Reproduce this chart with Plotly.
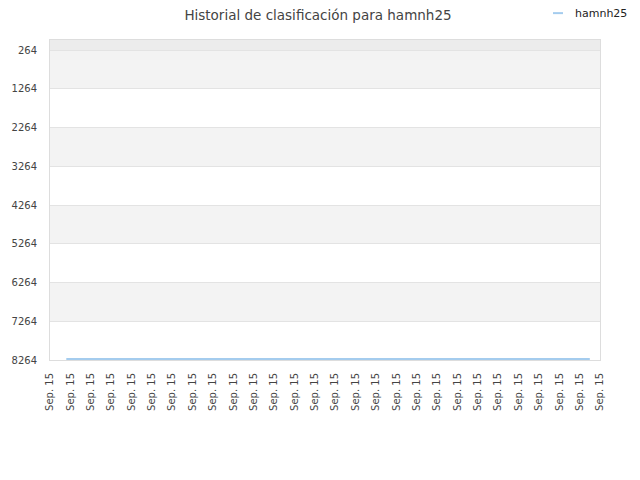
import plotly.graph_objects as go
import pandas as pd

# Datos del historial (todos el mismo día)
fechas = pd.to_datetime([
    "2015-09-15 10:24", "2015-09-15 13:00", "2015-09-15 16:00",
    "2015-09-15 19:00", "2015-09-15 21:00", "2015-09-15 23:15",
])
posiciones = [8240, 8240, 8240, 8240, 8240, 8240]

# Marcas del eje
ticks_y = [264, 1264, 2264, 3264, 4264, 5264, 6264, 7264, 8264]
ticks_x = pd.date_range("2015-09-15 10:00", periods=28, freq="30min")
jugador = "hamnh25"

fig = go.Figure()
fig.add_trace(go.Scatter(x=fechas, y=posiciones, mode="lines",
                         line=dict(color="#a4ccee", width=2),
                         name=jugador, showlegend=False))

# Bandas alternas
fig.add_shape(type="rect", xref="paper", yref="y", x0=0, x1=1,
              y0=6, y1=ticks_y[0], fillcolor="#ececec", line_width=0, layer="below")
for i in range(0, len(ticks_y) - 1, 2):
    fig.add_shape(type="rect", xref="paper", yref="y", x0=0, x1=1,
                  y0=ticks_y[i], y1=ticks_y[i + 1], fillcolor="#f3f3f3",
                  line_width=0, layer="below")

# Leyenda manual
fig.add_shape(type="line", xref="paper", yref="paper", x0=0.9145, x1=0.9327,
              y0=1.084, y1=1.084, line=dict(color="#a4ccee", width=2))
fig.add_annotation(text=jugador, xref="paper", yref="paper", x=0.951, y=1.084,
                   xanchor="left", yanchor="middle", showarrow=False,
                   font=dict(size=11, color="#222"))

# la página añade 8px de margen al cuerpo
fig.update_layout(
    width=632, height=472,
    margin=dict(l=42, r=40, t=32, b=120),
    paper_bgcolor="white", plot_bgcolor="white",
    font=dict(family="DejaVu Sans", size=10, color="#444"),
    title=dict(text="Historial de clasificación para " + jugador,
               x=0.4905, xanchor="center", y=0.984, yanchor="middle",
               font=dict(size=13.5, color="#444")),
    showlegend=False,
)
fig.update_xaxes(range=[ticks_x[0], ticks_x[-1]], tickvals=ticks_x,
                 ticktext=["Sep. 15"] * len(ticks_x), tickangle=-90,
                 showgrid=False, showline=True, linecolor="#dddddd",
                 mirror=True, ticks="", zeroline=False, automargin=False,
                 ticklabelstandoff=8)
fig.update_yaxes(range=[8264, 6], tickvals=ticks_y, showgrid=True,
                 gridcolor="#e3e3e3", showline=True, linecolor="#dddddd",
                 mirror=True, ticks="", zeroline=False, automargin=False,
                 ticklabelstandoff=10)

fig.write_html("out.html")
